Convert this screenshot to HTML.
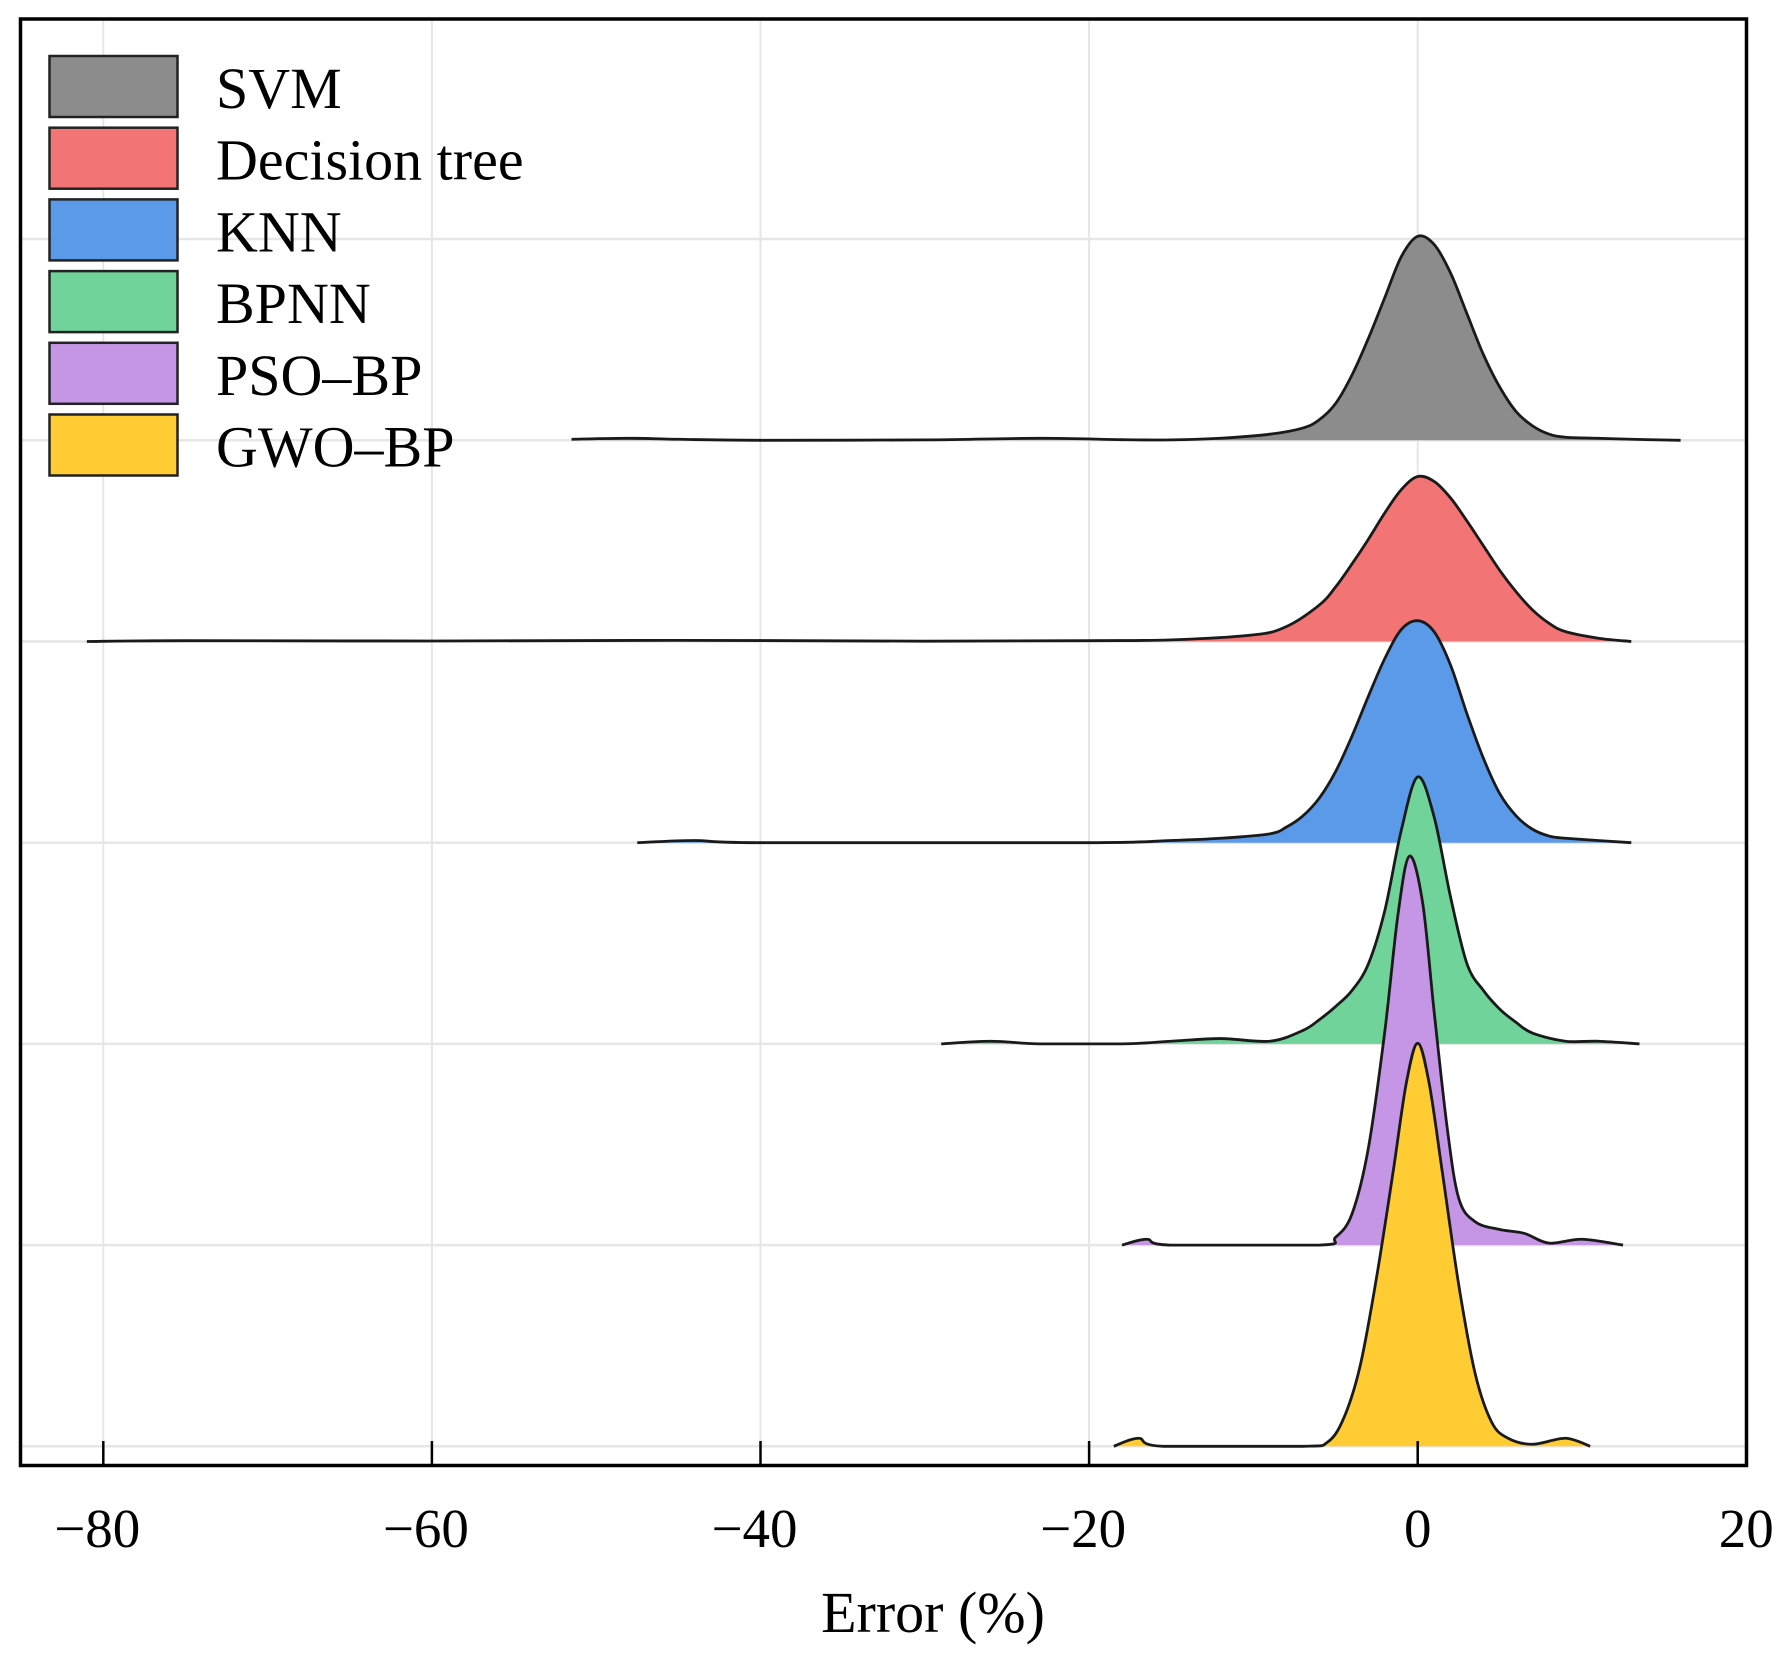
<!DOCTYPE html>
<html><head><meta charset="utf-8"><style>
html,body{margin:0;padding:0;background:#fff;}
svg{display:block;}
text{font-family:"Liberation Serif",serif;fill:#000;}
</style></head><body>
<svg id="chart" width="1784" height="1658" viewBox="0 0 1784 1658" xmlns="http://www.w3.org/2000/svg">
<g id="grid"></g>
<g id="ridges"></g>
<rect x="20.5" y="19" width="1726" height="1446.5" fill="none" stroke="#000" stroke-width="3.5"/>
<g id="axis"></g>
<text x="933" y="1632" font-size="58" text-anchor="middle">Error (%)</text>
<g id="legend"></g>
</svg>
<script>
const categories = ["SVM","Decision tree","KNN","BPNN","PSO–BP","GWO–BP"];
const xTicks = [-80,-60,-40,-20,0,20];
const tickLabels = ["−80","−60","−40","−20","0","20"];
const peakHeights = [204,165,222,267,389,403];
const svmX = [-51.5,-48,-45,-40,-30,-23,-18,-15,-12,-9,-7,-6,-5,-4,-3,-2,-1,0,1,2,3,4,5,6,7,8,9,11,13,16];
const svmY = [0.005,0.01,0.005,0,0.002,0.01,0.003,0.002,0.01,0.03,0.06,0.1,0.18,0.32,0.5,0.7,0.9,1,0.96,0.82,0.62,0.42,0.26,0.14,0.07,0.03,0.015,0.01,0.005,0];
const dtX = [-81,-75,-60,-45,-30,-20,-15,-10,-8,-6,-5,-4,-3,-2,-1,0,1,2,3,4,5,6,7,8,9,11,13];
const dtY = [0,0.005,0.003,0.007,0.002,0.005,0.01,0.04,0.09,0.22,0.33,0.47,0.62,0.78,0.92,1,0.97,0.87,0.73,0.58,0.43,0.3,0.19,0.11,0.06,0.02,0];
const knnX = [-47.5,-44,-40,-20,-15,-12,-9,-8,-7,-6,-5,-4,-3,-2,-1,0,1,2,3,4,5,6,7,8,9,13];
const knnY = [0,0.01,0,0,0.01,0.02,0.04,0.07,0.12,0.2,0.32,0.48,0.66,0.83,0.96,1,0.95,0.8,0.58,0.38,0.22,0.12,0.06,0.03,0.02,0];
const bpX = [-29,-26,-23,-18,-15,-12,-9,-7,-6,-5,-4,-3,-2,-1,0,1,2,3,4,5,6,7,9,11,13.5];
const bpY = [0,0.01,0,0,0.01,0.02,0.01,0.05,0.09,0.14,0.2,0.3,0.5,0.8,1,0.85,0.55,0.3,0.2,0.13,0.08,0.04,0.01,0.01,0];
const psoX = [-18,-16.5,-15,-6,-5,-4,-3,-2,-1.2,-0.5,0.3,1,1.8,2.5,3.5,5,6.5,8,10,12.5];
const psoY = [0,0.015,0,0,0.02,0.08,0.25,0.55,0.85,1,0.88,0.6,0.3,0.12,0.06,0.04,0.03,0.005,0.015,0];
const gwoX = [-18.5,-17,-15.5,-7,-5.5,-4.5,-3.5,-2.5,-1.5,-0.7,0,0.7,1.5,2.5,3.5,4.5,5.5,7,9,10.5];
const gwoY = [0,0.02,0,0,0.01,0.07,0.2,0.42,0.68,0.9,1,0.9,0.68,0.4,0.18,0.06,0.02,0.005,0.02,0];
const seriesX = [svmX,dtX,knnX,bpX,psoX,gwoX];
const seriesY = [svmY,dtY,knnY,bpY,psoY,gwoY];
const colors = ["#8c8c8c","#f27474","#5b9ae8","#6fd39a","#c596e6","#ffcc33"];

const NS="http://www.w3.org/2000/svg";
const xScale = v => 1417.7 + v*16.43;
const baseY = i => 440.3 + i*201.2;
function mk(t,a){const e=document.createElementNS(NS,t);for(const k in a)e.setAttribute(k,a[k]);return e;}

const grid=document.getElementById('grid');
xTicks.forEach(t=>{
  const l=mk('line',{x1:xScale(t),x2:xScale(t),y1:19,y2:1465,stroke:'#e6e6e6','stroke-width':2});
  
  
  grid.appendChild(l);
});
[-1,0,1,2,3,4,5].forEach(i=>{
  const y=i<0?239:baseY(i);
  const l=mk('line',{x1:20,x2:1746,y1:y,y2:y,stroke:'#e6e6e6','stroke-width':2.5});
  
  
  grid.appendChild(l);
});

function curve(xs,ys,i){
  const pts=xs.map((x,k)=>[xScale(x),baseY(i)-ys[k]*peakHeights[i]]);
  let d=`M${pts[0][0]},${pts[0][1]}`;
  for(let k=0;k<pts.length-1;k++){
    const p0=pts[Math.max(0,k-1)],p1=pts[k],p2=pts[k+1],p3=pts[Math.min(pts.length-1,k+2)];
    let c1y=p1[1]+(p2[1]-p0[1])/6, c2y=p2[1]-(p3[1]-p1[1])/6;
    c1y=Math.min(c1y,baseY(i)); c2y=Math.min(c2y,baseY(i));
    d+=` C${p1[0]+(p2[0]-p0[0])/6},${c1y} ${p2[0]-(p3[0]-p1[0])/6},${c2y} ${p2[0]},${p2[1]}`;
  }
  return {d,first:pts[0],last:pts[pts.length-1]};
}
const ridges=document.getElementById('ridges');
categories.forEach((c,i)=>{
  const g=mk('g',{});
  
  
  const cv=curve(seriesX[i],seriesY[i],i);
  const fill=mk('path',{d:cv.d+` L${cv.last[0]},${baseY(i)} L${cv.first[0]},${baseY(i)} Z`,fill:colors[i],stroke:'none'});
  
  
  const line=mk('path',{d:cv.d,fill:'none',stroke:'#1a1a1a','stroke-width':2.8,'stroke-linejoin':'round'});
  
  
  g.appendChild(fill);g.appendChild(line);ridges.appendChild(g);
});

const axis=document.getElementById('axis');
xTicks.forEach((t,k)=>{
  const l=mk('line',{x1:xScale(t),x2:xScale(t),y1:1441,y2:1465,stroke:'#000','stroke-width':2.5});
  
  
  axis.appendChild(l);
  const tx=mk('text',{x:xScale(t)-(t<0?6:0),y:1547,'font-size':55,'text-anchor':'middle'});
  
  
  tx.textContent=tickLabels[k];
  axis.appendChild(tx);
});

const legend=document.getElementById('legend');
categories.forEach((c,i)=>{
  const y=56+i*71.7;
  const g=mk('g',{});
  
  
  const r=mk('rect',{x:49.5,y:y,width:128,height:61,fill:colors[i],stroke:'#222','stroke-width':2.5});
  
  
  const t=mk('text',{x:216,y:y+52,'font-size':58});
  
  
  t.textContent=c;
  g.appendChild(r);g.appendChild(t);legend.appendChild(g);
});
</script>
</body></html>
